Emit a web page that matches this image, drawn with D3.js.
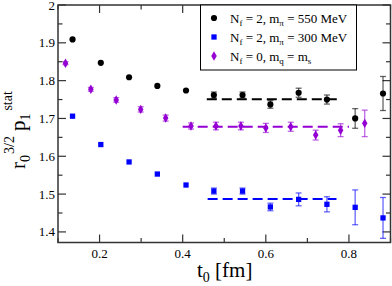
<!DOCTYPE html>
<html>
<head>
<meta charset="utf-8">
<script src="https://cdn.jsdelivr.net/npm/d3@7"></script>
<style>
  body { margin: 0; background: #fff; }
  svg text { font-family: "Liberation Serif", "DejaVu Serif", serif; }
</style>
</head>
<body>
<div id="chart"></div>
<script>
// t0 [fm] and r0^{3/2} p1^stat for each ensemble
var t550 = [0.135, 0.203, 0.271, 0.339, 0.408, 0.475, 0.544, 0.611, 0.679, 0.747, 0.815, 0.882];
var v550 = [1.909, 1.847, 1.809, 1.786, 1.774, 1.762, 1.762, 1.737, 1.768, 1.750, 1.700, 1.766];
var e550 = [0, 0, 0, 0, 0, 0.008, 0.008, 0.010, 0.012, 0.012, 0.026, 0.045];

var t300 = [0.135, 0.203, 0.271, 0.339, 0.408, 0.475, 0.544, 0.611, 0.679, 0.747, 0.815, 0.882];
var v300 = [1.706, 1.631, 1.585, 1.553, 1.524, 1.508, 1.508, 1.466, 1.486, 1.473, 1.465, 1.437];
var e300 = [0, 0, 0, 0, 0, 0.008, 0.008, 0.010, 0.017, 0.020, 0.046, 0.054];

var tq = [0.118, 0.179, 0.240, 0.299, 0.359, 0.420, 0.480, 0.540, 0.600, 0.660, 0.720, 0.780, 0.838];
var vq = [1.846, 1.777, 1.749, 1.724, 1.701, 1.680, 1.680, 1.680, 1.675, 1.678, 1.656, 1.669, 1.687];
var eq = [0.004, 0.005, 0.006, 0.007, 0.008, 0.008, 0.010, 0.010, 0.012, 0.012, 0.013, 0.017, 0.035];

// plateau fits: [t start, t end, value]
var fit550 = [0.458, 0.775, 1.751];
var fit300 = [0.46, 0.77, 1.487];
var fitq = [0.40, 0.80, 1.678];

var xTicks = [0.2, 0.4, 0.6, 0.8];
var yTicks = [1.4, 1.5, 1.6, 1.7, 1.8, 1.9, 2.0];

var width = 392, height = 286;
var mLeft = 58, mRight = 390.5, mTop = 5, mBottom = 242.5;

var svg = d3.select("#chart").append("svg")
    .attr("width", width)
    .attr("height", height);

var x = d3.scaleLinear().domain([0.1, 0.9]).range([mLeft, mRight]);
var y = d3.scaleLinear().domain([1.372, 2.0]).range([mBottom, mTop]);

var black = "#000", blue = "#0000ff", violet = "#9400d3";

// frame
svg.append("rect")
    .attr("x", mLeft).attr("y", mTop)
    .attr("width", mRight - mLeft).attr("height", mBottom - mTop)
    .attr("fill", "none").attr("stroke", "#333").attr("stroke-width", 1.5);

// ticks on all four sides, pointing inward
var xMinor = d3.range(0.1, 0.91, 0.1).map(function(d) { return +d.toFixed(2); });
var yMinor = d3.range(1.4, 2.0, 0.05).map(function(d) { return +d.toFixed(2); });

var tickG = svg.append("g").attr("stroke", "#333").attr("stroke-width", 1.2);
xMinor.forEach(function(t) {
  var major = xTicks.indexOf(t) >= 0;
  var len = major ? 8 : 4.5;
  tickG.append("line").attr("x1", x(t)).attr("x2", x(t)).attr("y1", mBottom).attr("y2", mBottom - len);
  tickG.append("line").attr("x1", x(t)).attr("x2", x(t)).attr("y1", mTop).attr("y2", mTop + len);
});
yMinor.forEach(function(v) {
  var major = yTicks.indexOf(v) >= 0;
  var len = major ? 8 : 4.5;
  tickG.append("line").attr("y1", y(v)).attr("y2", y(v)).attr("x1", mLeft).attr("x2", mLeft + len);
  tickG.append("line").attr("y1", y(v)).attr("y2", y(v)).attr("x1", mRight).attr("x2", mRight - len);
});

// tick labels
svg.append("g").selectAll("text")
    .data(xTicks).enter().append("text")
    .attr("x", function(d) { return x(d); })
    .attr("y", mBottom + 15)
    .attr("text-anchor", "middle")
    .attr("font-size", 13)
    .text(function(d) { return d3.format(".1f")(d); });

svg.append("g").selectAll("text")
    .data(yTicks).enter().append("text")
    .attr("x", mLeft - 3)
    .attr("y", function(d) { return y(d) + 4.5; })
    .attr("text-anchor", "end")
    .attr("font-size", 13)
    .text(function(d) { return d === 2 ? "2" : d3.format(".1f")(d); });

// axis labels
var xl = svg.append("text")
    .attr("x", 197).attr("y", 277)
    .attr("font-size", 21);
xl.append("tspan").text("t");
xl.append("tspan").attr("dy", 5).attr("font-size", 14).text("0");
xl.append("tspan").attr("dy", -5).text(" [fm]");

var yl = svg.append("text")
    .attr("transform", "translate(25,169) rotate(-90)")
    .attr("font-size", 21);
yl.append("tspan").text("r");
yl.append("tspan").attr("dy", 5).attr("font-size", 14).text("0");
yl.append("tspan").attr("dy", -16).attr("font-size", 14).attr("dx", 1).text("3/2");
yl.append("tspan").attr("dy", 11).attr("dx", 5).text("p");
yl.append("tspan").attr("dy", 5).attr("font-size", 14).text("1");
yl.append("tspan").attr("dy", -18).attr("dx", 3).attr("font-size", 14).text("stat");

// plateau lines
function plateau(f, color) {
  svg.append("line")
      .attr("x1", x(f[0])).attr("x2", x(f[1]))
      .attr("y1", y(f[2])).attr("y2", y(f[2]))
      .attr("stroke", color).attr("stroke-width", 2)
      .attr("stroke-dasharray", "10,5");
}
plateau(fit550, black);
plateau(fit300, blue);
plateau(fitq, violet);

// series with error bars
function series(ts, vs, es, color, shape, size) {
  var data = ts.map(function(t, i) { return { t: t, v: vs[i], e: es[i] }; });
  var g = svg.append("g");
  var eb = g.selectAll("g.err").data(data.filter(function(d) { return d.e > 0; }))
      .enter().append("g")
      .attr("stroke", color).attr("stroke-width", 1.3).attr("stroke-opacity", 0.6);
  eb.append("line")
      .attr("x1", function(d) { return x(d.t); }).attr("x2", function(d) { return x(d.t); })
      .attr("y1", function(d) { return y(d.v - d.e); }).attr("y2", function(d) { return y(d.v + d.e); });
  eb.append("line")
      .attr("x1", function(d) { return x(d.t) - 3; }).attr("x2", function(d) { return x(d.t) + 3; })
      .attr("y1", function(d) { return y(d.v + d.e); }).attr("y2", function(d) { return y(d.v + d.e); });
  eb.append("line")
      .attr("x1", function(d) { return x(d.t) - 3; }).attr("x2", function(d) { return x(d.t) + 3; })
      .attr("y1", function(d) { return y(d.v - d.e); }).attr("y2", function(d) { return y(d.v - d.e); });
  g.selectAll("path.pt").data(data).enter().append("path")
      .attr("d", d3.symbol().type(shape).size(size))
      .attr("transform", function(d) { return "translate(" + x(d.t) + "," + y(d.v) + ")"; })
      .attr("fill", color);
}
series(t550, v550, e550, black, d3.symbolCircle, 30);
series(t300, v300, e300, blue, d3.symbolSquare, 28);
series(tq, vq, eq, violet, d3.symbolDiamond, 26);

// legend
var lg = svg.append("g");
lg.append("rect")
    .attr("x", 200.5).attr("y", mTop)
    .attr("width", 156).attr("height", 65)
    .attr("fill", "#fff").attr("stroke", "#000").attr("stroke-width", 1);

var legendRows = [
  { color: black, shape: d3.symbolCircle, size: 30, mass: "π", val: "2", rest: " = 550 MeV" },
  { color: blue, shape: d3.symbolSquare, size: 28, mass: "π", val: "2", rest: " = 300 MeV" },
  { color: violet, shape: d3.symbolDiamond, size: 26, mass: "q", val: "0", rest: " = m" }
];
legendRows.forEach(function(r, i) {
  var cy = 18 + i * 19;
  lg.append("path")
      .attr("d", d3.symbol().type(r.shape).size(r.size))
      .attr("transform", "translate(214," + cy + ")")
      .attr("fill", r.color);
  var t = lg.append("text").attr("x", 230).attr("y", cy + 4.5).attr("font-size", 13);
  t.append("tspan").text("N");
  t.append("tspan").attr("dy", 3).attr("font-size", 9).text("f");
  t.append("tspan").attr("dy", -3).text(" = " + r.val + ", m");
  t.append("tspan").attr("dy", 3).attr("font-size", 9).text(r.mass);
  t.append("tspan").attr("dy", -3).text(r.rest);
  if (i === 2) {
    t.append("tspan").attr("dy", 3).attr("font-size", 9).text("s");
  }
});
</script>
</body>
</html>
